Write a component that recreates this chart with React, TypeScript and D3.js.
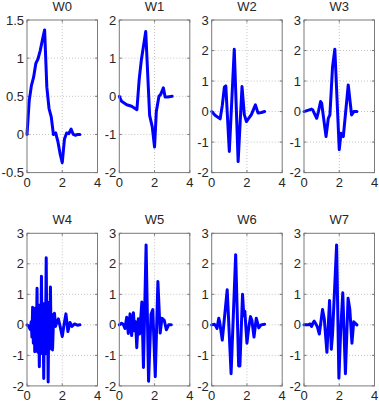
import React from "react";
import * as d3 from "d3";

// ---------- data ----------
const titles = ["W0", "W1", "W2", "W3", "W4", "W5", "W6", "W7"];
const xTicks = [0, 2, 4];
const yDomains: [number, number][] = [
  [-0.5, 1.5], [-2, 2], [-2, 3], [-2, 3],
  [-2, 3], [-2, 3], [-2, 3], [-2, 3],
];
const yTickSets: number[][] = [
  [-0.5, 0, 0.5, 1, 1.5],
  [-2, -1, 0, 1, 2],
  [-2, -1, 0, 1, 2, 3],
  [-2, -1, 0, 1, 2, 3],
  [-2, -1, 0, 1, 2, 3],
  [-2, -1, 0, 1, 2, 3],
  [-2, -1, 0, 1, 2, 3],
  [-2, -1, 0, 1, 2, 3],
];

const w0X = [0, 0.125, 0.25, 0.375, 0.5, 0.625, 0.75, 0.875, 1, 1.125, 1.25, 1.375, 1.5, 1.625, 1.75, 1.875, 2, 2.125, 2.25, 2.375, 2.5, 2.625, 2.75, 2.875, 3];
const w0Y = [0, 0.44, 0.64, 0.75, 0.93, 0.99, 1.1, 1.24, 1.37, 0.62, 0.34, 0.23, 0.0, 0.02, -0.09, -0.25, -0.37, -0.06, 0.02, 0.01, 0.07, 0.0, -0.01, 0.0, 0];

const w1X = [0, 0.13, 0.42, 0.7, 1.0, 1.13, 1.25, 1.5, 1.72, 1.87, 2.0, 2.1, 2.25, 2.35, 2.5, 2.6, 2.75, 3];
const w1Y = [0, -0.13, -0.22, -0.26, -0.35, 0.45, 0.95, 1.7, -0.5, -0.8, -1.33, -0.4, 0, 0.05, 0.22, -0.02, -0.02, 0];

const w2X = [0, 0.19, 0.48, 0.6, 0.72, 0.8, 1.0, 1.28, 1.5, 1.72, 1.85, 1.97, 2.1, 2.25, 2.48, 2.63, 2.82, 3];
const w2Y = [0, -0.12, -0.24, 0.2, 0.8, 0.84, -1.31, 2.04, -1.64, 0.82, -0.1, -0.33, -0.22, -0.1, 0.22, -0.05, -0.03, 0];

const w3X = [0, 0.43, 0.5, 0.72, 0.82, 0.94, 1.0, 1.25, 1.38, 1.47, 1.62, 1.75, 2.0, 2.1, 2.23, 2.51, 2.7, 2.83, 3];
const w3Y = [0, 0.08, 0.05, -0.22, 0.0, 0.33, 0.28, -0.82, -0.22, -0.11, 1.47, 2.04, -1.25, -0.71, -0.82, 0.87, -0.11, 0, 0];

const w4X = [0, 0.1, 0.18, 0.24, 0.28, 0.32, 0.36, 0.4, 0.44, 0.48, 0.52, 0.57, 0.61, 0.65, 0.7, 0.74, 0.78, 0.82, 0.86, 0.9, 0.95, 0.99, 1.04, 1.09, 1.13, 1.16, 1.2, 1.24, 1.28, 1.33, 1.37, 1.41, 1.45, 1.5, 1.56, 1.62, 1.7, 1.78, 1.88, 2.0, 2.1, 2.21, 2.32, 2.44, 2.55, 2.7, 2.85, 3];
const w4Y = [0, -0.05, -0.15, 0.1, -0.4, 0.58, -0.6, 0.5, -0.88, 0.55, -0.85, 1.2, -0.9, 0.6, -1.37, 0.65, -0.9, 1.59, -0.95, 0.7, -1.76, 0.7, -0.95, 2.2, -0.9, 0.75, -1.87, 0.6, -0.8, 1.24, -0.7, 0.35, -0.82, 0.1, 0.38, -0.05, 0.1, 0.2, -0.05, -0.38, 0.0, 0.36, -0.22, 0.08, -0.05, 0.03, -0.01, 0];

const w5X = [0, 0.13, 0.22, 0.32, 0.42, 0.51, 0.61, 0.7, 0.8, 0.87, 0.93, 0.99, 1.08, 1.15, 1.28, 1.37, 1.52, 1.66, 1.8, 1.9, 2.04, 2.19, 2.32, 2.42, 2.55, 2.67, 2.8, 2.95];
const w5Y = [0, 0.05, 0.02, -0.12, 0.25, -0.28, 0.36, -0.35, 0.4, -0.2, 0.1, -0.75, 0.2, -0.3, 0.75, -1.4, 2.62, -1.85, 0.35, 0.5, -1.7, 1.42, -0.27, 0.22, 0.15, -0.16, 0.0, 0];

const w6X = [0, 0.15, 0.25, 0.3, 0.4, 0.45, 0.6, 0.88, 1.1, 1.36, 1.53, 1.6, 1.75, 1.82, 1.88, 2.0, 2.1, 2.2, 2.28, 2.4, 2.53, 2.67, 2.8, 3];
const w6Y = [0, 0.02, -0.05, -0.12, 0.22, 0.1, -0.5, 1.15, -1.6, 2.3, -1.35, -1.35, 1.0, 0.3, 0.45, -0.6, -0.1, 0.27, 0.15, -0.4, 0.22, -0.1, 0.0, 0.02];

const w7X = [0, 0.25, 0.35, 0.43, 0.5, 0.58, 0.65, 0.75, 0.87, 1.05, 1.15, 1.3, 1.45, 1.55, 1.62, 1.85, 1.98, 2.08, 2.2, 2.35, 2.5, 2.6, 2.72, 2.82, 3];
const w7Y = [0, 0.0, 0.03, -0.05, 0.05, 0.12, 0.05, -0.05, -0.3, 0.5, 0.2, -0.9, 0.8, -0.8, -0.3, 2.62, -1.75, -0.2, 1.05, -1.6, 0.87, 0.5, -0.6, 0.1, 0];

const seriesX = [w0X, w1X, w2X, w3X, w4X, w5X, w6X, w7X];
const seriesY = [w0Y, w1Y, w2Y, w3Y, w4Y, w5Y, w6Y, w7Y];

// ---------- layout ----------
const W = 379;
const H = 403;
const colLeft = [27, 119.3, 211.7, 304];
const axW = 70.5;
const rowTop = [20, 233.3];
const axH = 152.6;
const titleY = [10.6, 223.8];
const FONT = "'Liberation Sans', Arial, Helvetica, sans-serif";
const boxColor = "#7a7a7a";
const textColor = "#262626";

function Panel({ i }: { i: number }) {
  const row = Math.floor(i / 4);
  const col = i % 4;
  const left = colLeft[col];
  const top = rowTop[row];
  const x = d3.scaleLinear().domain([0, 4]).range([left, left + axW]);
  const y = d3.scaleLinear().domain(yDomains[i]).range([top + axH, top]);
  const pts: [number, number][] = seriesX[i].map((v, k) => [v, seriesY[i][k]]);
  const line = d3
    .line<[number, number]>()
    .x((d) => x(d[0]))
    .y((d) => y(d[1]));
  const yt = yTickSets[i];
  const bottom = top + axH;
  const right = left + axW;
  const tl = 2.5;
  return (
    <g>
      {xTicks.slice(1, -1).map((t) => (
        <line key={"gx" + t} x1={x(t)} x2={x(t)} y1={top} y2={bottom}
          stroke="#c4c4c4" strokeWidth={1} strokeDasharray="1,2" />
      ))}
      {yt.slice(1, -1).map((t) => (
        <line key={"gy" + t} x1={left} x2={right} y1={y(t)} y2={y(t)}
          stroke="#c4c4c4" strokeWidth={1} strokeDasharray="1,2" />
      ))}
      {xTicks.map((t) => (
        <g key={"tx" + t}>
          <line x1={x(t)} x2={x(t)} y1={bottom} y2={bottom - tl} stroke={boxColor} />
          <line x1={x(t)} x2={x(t)} y1={top} y2={top + tl} stroke={boxColor} />
          <text x={x(t)} y={bottom + 14} textAnchor="middle" fontSize={13}
            fontFamily={FONT} fill={textColor}>{String(t)}</text>
        </g>
      ))}
      {yt.map((t) => (
        <g key={"ty" + t}>
          <line x1={left} x2={left + tl} y1={y(t)} y2={y(t)} stroke={boxColor} />
          <line x1={right} x2={right - tl} y1={y(t)} y2={y(t)} stroke={boxColor} />
          <text x={left - 3} y={y(t) + 4.6} textAnchor="end" fontSize={13}
            fontFamily={FONT} fill={textColor}>{String(t)}</text>
        </g>
      ))}
      <path d={line(pts) || ""} fill="none" stroke="#0000ff" strokeWidth={3}
        strokeLinejoin="round" strokeLinecap="round" />
      <rect x={left} y={top} width={axW} height={axH} fill="none" stroke={boxColor} strokeWidth={1} />
      <text x={(left + right) / 2} y={titleY[row]} textAnchor="middle" fontSize={13}
        fontFamily={FONT} fill={textColor}>{titles[i]}</text>
    </g>
  );
}

export default function App() {
  return (
    <svg width={W} height={H} style={{ position: "absolute", left: 0, top: 0, background: "#fff" }}>
      <rect x={0} y={0} width={W} height={H} fill="#fff" />
      {titles.map((_, i) => (
        <Panel key={i} i={i} />
      ))}
    </svg>
  );
}
